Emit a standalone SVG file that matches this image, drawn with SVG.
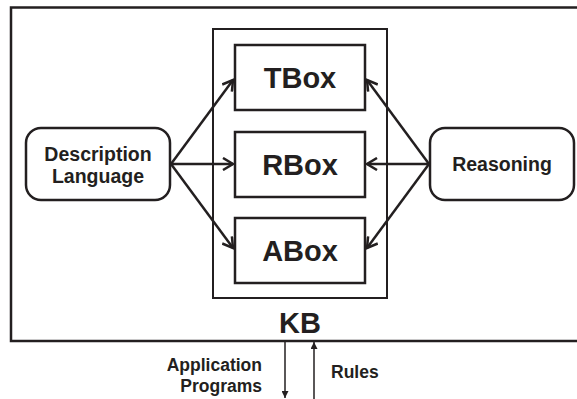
<svg xmlns="http://www.w3.org/2000/svg" width="577" height="399" viewBox="0 0 577 399">
<style>
.frame{fill:none;stroke:#231f20;stroke-width:2.5}
.kb{fill:none;stroke:#231f20;stroke-width:2}
.box{fill:#fff;stroke:#231f20;stroke-width:2.5}
.big{font-family:"Liberation Sans",Arial,sans-serif;font-weight:bold;font-size:29px;fill:#231f20;text-anchor:middle}
.mid{font-family:"Liberation Sans",Arial,sans-serif;font-weight:bold;font-size:19.5px;fill:#231f20;text-anchor:middle}
.sm{font-family:"Liberation Sans",Arial,sans-serif;font-weight:bold;font-size:17.5px;fill:#231f20}
.conn{fill:none;stroke:#231f20;stroke-width:2.5}
.thin{fill:none;stroke:#231f20;stroke-width:1.5}
</style>
<defs>
<marker id="chev" viewBox="0 0 14 14" refX="12" refY="7" markerWidth="14" markerHeight="14" markerUnits="userSpaceOnUse" orient="auto">
<path d="M2,1 L12,7 L2,13" fill="none" stroke="#231f20" stroke-width="2.5"/>
</marker>
<marker id="tri" viewBox="0 0 8 8" refX="8" refY="4" markerWidth="7" markerHeight="7" markerUnits="userSpaceOnUse" orient="auto">
<path d="M0,0 L8,4 L0,8 Z" fill="#231f20"/>
</marker>
</defs>
<g id="outer">
<rect class="frame" x="11" y="7.5" width="570" height="333.5"/>
</g>
<g id="kb">
<rect class="kb" x="213" y="29" width="174" height="269"/>
<text class="big" x="300" y="333">KB</text>
</g>
<g id="tbox">
<rect class="box" x="235" y="45" width="130" height="65"/>
<text class="big" x="300" y="88">TBox</text>
</g>
<g id="rbox">
<rect class="box" x="235" y="132" width="130" height="65"/>
<text class="big" x="300" y="175">RBox</text>
</g>
<g id="abox">
<rect class="box" x="235" y="218" width="130" height="65"/>
<text class="big" x="300" y="261">ABox</text>
</g>
<g id="desc">
<rect class="box" x="26" y="128" width="144" height="72" rx="15"/>
<text class="mid" x="98" y="161">Description</text>
<text class="mid" x="98" y="183">Language</text>
</g>
<g id="reasoning">
<rect class="box" x="430" y="128" width="144" height="72" rx="15"/>
<text class="mid" x="502" y="171">Reasoning</text>
</g>
<g id="connectors">
<line class="conn" x1="171" y1="164" x2="233" y2="80" marker-end="url(#chev)"/>
<line class="conn" x1="171" y1="164" x2="233" y2="164" marker-end="url(#chev)"/>
<line class="conn" x1="171" y1="164" x2="233" y2="248" marker-end="url(#chev)"/>
<line class="conn" x1="429" y1="164" x2="367" y2="80" marker-end="url(#chev)"/>
<line class="conn" x1="429" y1="164" x2="367" y2="164" marker-end="url(#chev)"/>
<line class="conn" x1="429" y1="164" x2="367" y2="248" marker-end="url(#chev)"/>
<line class="thin" x1="285" y1="342" x2="285" y2="398" marker-end="url(#tri)"/>
<line class="thin" x1="314" y1="400" x2="314" y2="342" marker-end="url(#tri)"/>
</g>
<g id="labels">
<text class="sm" x="262" y="371" text-anchor="end">Application</text>
<text class="sm" x="262" y="392" text-anchor="end">Programs</text>
<text class="sm" x="331" y="378">Rules</text>
</g>
</svg>
